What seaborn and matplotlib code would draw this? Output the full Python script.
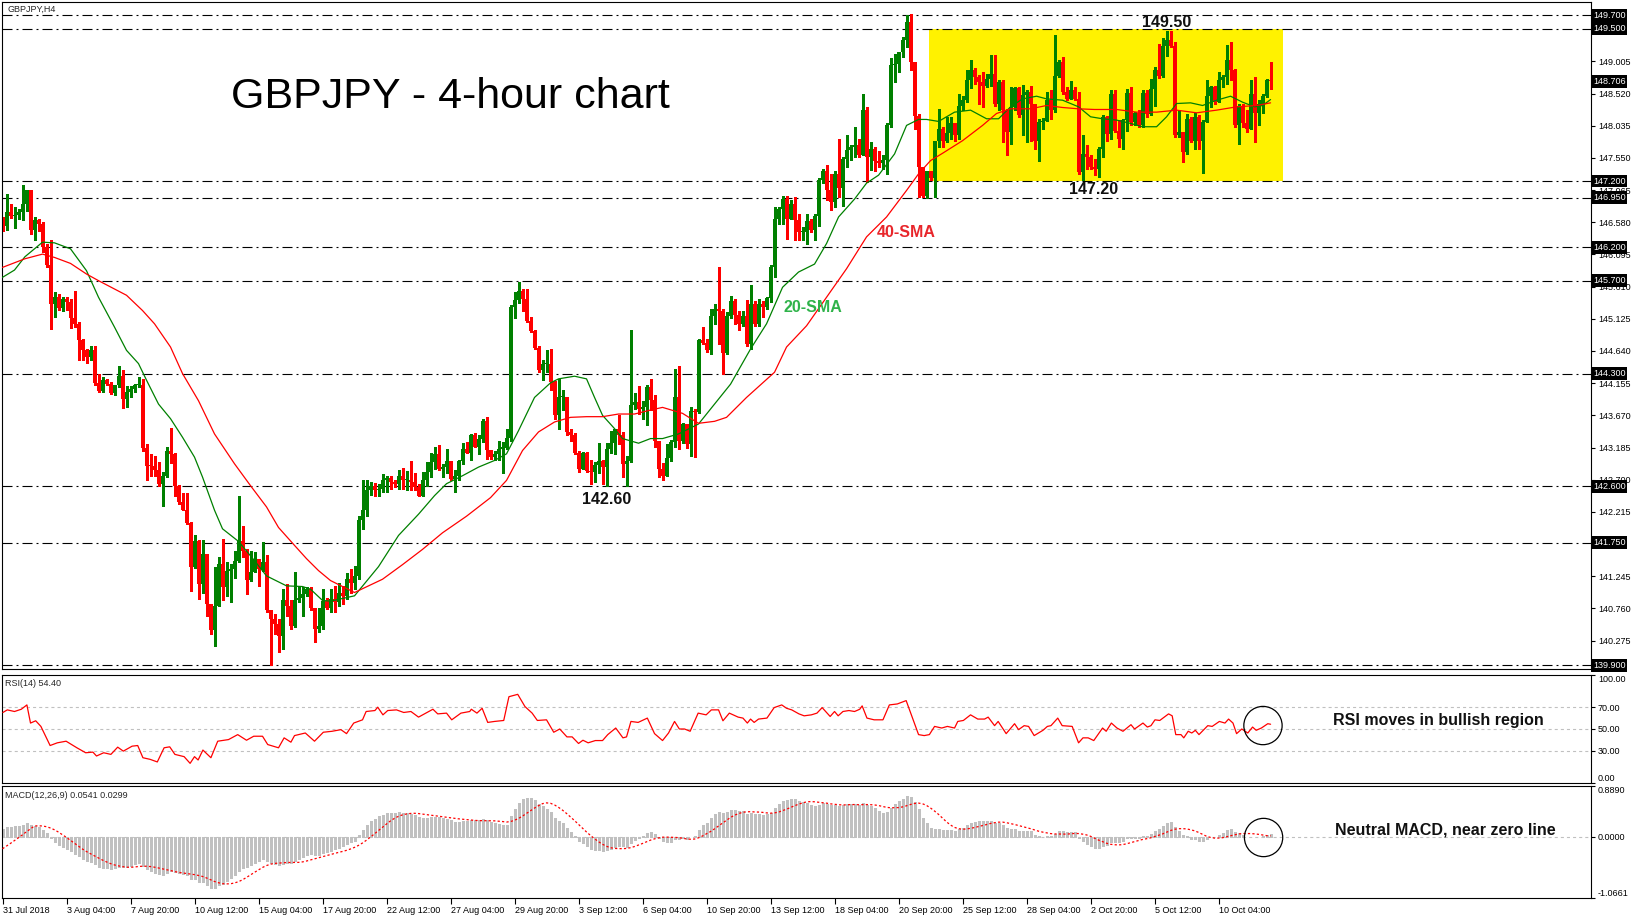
import numpy as np
import pandas as pd
import matplotlib
matplotlib.use("Agg")
import matplotlib.pyplot as plt
import seaborn as sns
from matplotlib.transforms import blended_transform_factory

# ---------------- data ----------------
first_open = 146.63
close = [146.52, 146.73, 146.68, 146.69, 146.73, 146.86, 147.06, 146.47, 146.62, 146.56,
         146.20, 145.93, 145.35, 145.46, 145.29, 145.43, 145.38, 145.14, 145.04, 144.80,
         144.65, 144.55, 144.65, 144.16, 144.04, 144.20, 144.15, 144.00, 144.12, 144.27,
         143.92, 144.02, 144.07, 144.12, 144.12, 143.18, 142.91, 142.90, 142.84, 142.63,
         142.75, 143.14, 143.09, 142.60, 142.36, 142.25, 142.04, 141.39, 141.77, 141.13,
         141.58, 140.82, 140.43, 140.80, 141.43, 141.08, 141.33, 141.36, 141.47, 141.77,
         141.62, 141.19, 141.31, 141.51, 141.36, 141.46, 140.73, 140.60, 140.53, 140.35,
         140.88, 140.80, 140.50, 140.89, 140.92, 140.98, 141.05, 140.77, 140.45, 140.50,
         140.87, 140.77, 140.90, 140.85, 141.00, 140.95, 141.20, 141.15, 141.25, 142.10,
         142.25, 142.55, 142.60, 142.55, 142.56, 142.69, 142.72, 142.66, 142.64, 142.75,
         142.69, 142.70, 142.66, 142.59, 142.46, 142.69, 142.81, 142.97, 143.08, 142.86,
         142.89, 142.98, 142.71, 142.75, 142.98, 143.17, 143.11, 143.37, 143.20, 143.32,
         143.59, 143.15, 143.04, 143.09, 143.17, 143.18, 143.33, 145.31, 145.41, 145.55,
         145.43, 145.09, 144.94, 144.69, 144.36, 144.45, 144.45, 144.17, 143.67, 143.94,
         143.94, 143.42, 143.37, 143.10, 142.86, 143.10, 142.83, 142.81, 142.92, 142.98,
         142.89, 143.17, 143.25, 143.47, 143.37, 142.94, 142.98, 143.83, 143.87, 143.77,
         143.80, 144.10, 143.90, 143.29, 142.86, 142.76, 143.03, 143.27, 143.94, 143.29,
         143.54, 143.24, 143.74, 143.72, 144.80, 144.76, 144.65, 145.16, 145.28, 145.25,
         144.61, 145.16, 145.40, 145.18, 145.05, 145.17, 144.75, 145.35, 145.04, 145.35,
         145.31, 145.44, 145.90, 146.63, 146.78, 146.93, 146.63, 146.86, 146.61, 146.43,
         146.43, 146.60, 146.46, 146.68, 147.21, 147.35, 147.06, 146.89, 147.31, 147.09,
         147.54, 147.67, 147.72, 147.74, 147.59, 148.27, 147.57, 147.69, 147.51, 147.47,
         147.52, 148.04, 148.95, 148.97, 149.15, 149.32, 149.60, 148.99, 148.18, 147.41,
         146.98, 147.35, 147.24, 147.80, 147.99, 147.80, 147.92, 148.07, 147.89, 148.34,
         148.42, 148.72, 148.87, 148.77, 148.69, 148.64, 148.74, 148.82, 148.37, 148.69,
         148.27, 147.94, 148.32, 148.61, 148.19, 148.50, 148.54, 148.37, 147.81, 148.09,
         148.10, 148.43, 148.27, 148.79, 148.99, 148.54, 148.44, 148.57, 148.44, 147.34,
         147.61, 147.56, 147.41, 147.39, 147.69, 148.17, 147.91, 148.52, 147.96, 147.84,
         148.12, 148.53, 148.09, 148.22, 148.04, 148.53, 148.21, 148.59, 148.87, 148.78,
         149.23, 149.33, 149.23, 147.89, 147.94, 147.64, 148.14, 147.81, 148.17, 147.81,
         148.09, 148.48, 148.62, 148.39, 148.72, 148.77, 149.02, 148.87, 148.04, 148.34,
         148.07, 147.99, 148.52, 148.22, 148.37, 148.49, 148.72, 148.71]
high = [146.66, 147.00, 146.85, 146.81, 146.78, 147.14, 147.07, 147.06, 146.66, 146.63,
        146.58, 146.26, 146.31, 145.53, 145.50, 145.46, 145.45, 145.43, 145.54, 145.08,
        144.82, 144.67, 144.72, 144.72, 144.30, 144.25, 144.22, 144.17, 144.13, 144.42,
        144.35, 144.11, 144.11, 144.15, 144.25, 144.22, 143.24, 143.08, 143.06, 142.96,
        142.81, 143.19, 143.48, 143.10, 142.62, 142.50, 142.50, 142.06, 141.87, 141.79,
        141.79, 141.34, 140.80, 141.38, 141.53, 141.81, 141.46, 141.43, 141.62, 142.46,
        142.00, 141.66, 141.63, 141.61, 141.51, 141.76, 141.56, 140.74, 140.68, 140.60,
        141.05, 141.13, 140.88, 141.31, 141.08, 141.08, 141.09, 141.08, 140.77, 140.77,
        141.05, 140.92, 141.05, 141.10, 141.15, 141.10, 141.30, 141.35, 141.40, 142.15,
        142.70, 142.70, 142.67, 142.65, 142.64, 142.79, 142.76, 142.76, 142.69, 142.84,
        142.88, 142.83, 142.98, 142.80, 142.64, 142.81, 142.96, 143.11, 143.20, 143.22,
        142.94, 143.17, 142.98, 142.84, 143.00, 143.25, 143.27, 143.39, 143.40, 143.37,
        143.62, 143.65, 143.15, 143.14, 143.28, 143.27, 143.47, 145.33, 145.53, 145.68,
        145.58, 145.58, 145.15, 144.96, 144.71, 144.50, 144.65, 144.67, 144.19, 144.22,
        144.05, 143.69, 143.47, 143.40, 143.14, 143.12, 143.12, 142.99, 142.96, 143.25,
        142.99, 143.25, 143.44, 143.47, 143.67, 143.42, 143.05, 144.95, 144.00, 144.11,
        143.88, 144.12, 144.22, 143.97, 143.11, 142.95, 143.24, 143.30, 144.37, 144.42,
        143.55, 143.49, 143.80, 143.77, 144.82, 145.00, 144.82, 145.28, 145.35, 145.90,
        145.28, 145.23, 145.47, 145.43, 145.25, 145.25, 145.41, 145.63, 145.40, 145.43,
        145.40, 145.46, 145.94, 146.81, 146.81, 146.98, 146.98, 146.91, 146.96, 146.71,
        146.51, 146.71, 146.63, 146.70, 147.24, 147.39, 147.45, 147.31, 147.36, 147.84,
        147.56, 147.90, 147.74, 148.01, 147.84, 148.52, 148.32, 147.79, 147.71, 147.66,
        147.59, 148.07, 149.05, 149.12, 149.15, 149.37, 149.70, 149.72, 149.00, 148.21,
        147.34, 147.36, 147.36, 147.80, 148.29, 148.01, 148.17, 148.17, 148.07, 148.52,
        148.49, 148.87, 149.02, 148.90, 148.80, 148.84, 148.82, 149.10, 149.10, 148.72,
        148.72, 148.29, 148.62, 148.62, 148.62, 148.65, 148.57, 148.64, 148.37, 148.14,
        148.15, 148.54, 148.57, 149.41, 149.02, 149.07, 148.62, 148.71, 148.62, 148.54,
        147.89, 147.74, 147.59, 147.53, 147.71, 148.19, 148.18, 148.57, 148.57, 148.12,
        148.14, 148.59, 148.62, 148.24, 148.27, 148.57, 148.57, 148.74, 148.92, 149.27,
        149.35, 149.47, 149.47, 149.30, 148.27, 147.92, 148.21, 148.16, 148.22, 148.19,
        148.12, 148.72, 148.64, 148.64, 148.85, 148.80, 149.25, 149.30, 148.89, 148.37,
        148.37, 148.27, 148.72, 148.77, 148.42, 148.52, 148.74, 149.00]
low = [146.45, 146.47, 146.65, 146.50, 146.63, 146.62, 146.75, 146.41, 146.31, 146.45,
       146.13, 145.90, 144.97, 145.15, 145.26, 145.25, 145.26, 144.99, 145.00, 144.50,
       144.50, 144.46, 144.50, 144.12, 144.02, 144.02, 144.12, 143.99, 143.98, 144.09,
       143.78, 143.79, 143.94, 144.02, 144.10, 143.14, 142.69, 142.76, 142.76, 142.61,
       142.31, 142.74, 142.95, 142.46, 142.34, 142.24, 142.03, 141.02, 141.37, 140.90,
       141.00, 140.65, 140.37, 140.20, 140.80, 140.88, 140.95, 140.85, 141.22, 141.46,
       141.53, 140.98, 141.18, 141.31, 141.10, 141.33, 140.70, 139.90, 140.37, 140.10,
       140.15, 140.65, 140.45, 140.48, 140.85, 140.65, 140.95, 140.74, 140.25, 140.40,
       140.45, 140.75, 140.70, 140.70, 140.80, 140.82, 140.90, 141.00, 141.05, 141.20,
       141.95, 142.15, 142.47, 142.45, 142.46, 142.51, 142.51, 142.56, 142.59, 142.56,
       142.56, 142.55, 142.54, 142.55, 142.46, 142.49, 142.61, 142.74, 142.86, 142.84,
       142.74, 142.80, 142.69, 142.51, 142.69, 142.94, 143.10, 142.99, 143.19, 143.09,
       143.27, 143.01, 143.01, 142.99, 142.99, 142.80, 143.16, 143.28, 145.13, 145.36,
       145.25, 145.07, 144.92, 144.67, 144.32, 144.20, 144.32, 144.05, 143.62, 143.47,
       143.75, 143.37, 143.29, 143.08, 142.81, 142.86, 142.81, 142.64, 142.66, 142.80,
       142.64, 142.61, 143.10, 143.08, 143.24, 142.74, 142.61, 142.96, 143.76, 143.69,
       143.62, 143.53, 143.75, 143.19, 142.74, 142.69, 142.76, 142.98, 143.19, 143.17,
       143.25, 143.18, 143.06, 143.04, 143.71, 144.75, 144.62, 144.60, 145.05, 144.75,
       144.29, 144.60, 145.13, 145.05, 144.96, 145.02, 144.72, 144.67, 145.02, 145.02,
       145.15, 145.28, 145.38, 145.75, 146.56, 146.56, 146.33, 146.63, 146.32, 146.31,
       146.31, 146.26, 146.43, 146.31, 146.52, 147.17, 146.91, 146.76, 146.81, 146.96,
       146.82, 147.41, 147.52, 147.56, 147.56, 147.72, 147.19, 147.37, 147.36, 147.41,
       147.39, 147.31, 148.02, 148.69, 148.85, 149.07, 149.22, 148.87, 147.99, 146.96,
       146.96, 146.94, 147.21, 146.96, 147.71, 147.71, 147.79, 147.84, 147.80, 147.84,
       148.27, 148.39, 148.61, 148.67, 148.37, 148.32, 148.62, 148.64, 148.34, 148.27,
       147.79, 147.59, 147.76, 148.27, 148.17, 147.90, 147.79, 147.81, 147.69, 147.51,
       147.99, 148.14, 148.14, 148.24, 148.77, 148.52, 148.42, 148.44, 148.42, 147.31,
       147.21, 147.39, 147.39, 147.29, 147.26, 147.56, 147.81, 147.84, 147.94, 147.71,
       147.69, 147.96, 148.04, 148.04, 148.02, 148.02, 148.17, 148.19, 148.34, 148.76,
       148.77, 149.08, 149.22, 147.87, 147.86, 147.49, 147.61, 147.79, 147.69, 147.69,
       147.32, 148.09, 148.32, 148.37, 148.39, 148.62, 148.67, 148.72, 148.02, 147.76,
       148.02, 147.94, 148.24, 147.79, 148.04, 148.22, 148.47, 148.59]

# moving averages as drawn (bar index, price)
sma20_x = [0, 3, 5.6, 10, 13, 17, 21, 24, 28, 31, 34, 36, 39, 42, 45, 48, 50, 53, 55, 59,
           63, 66, 71, 75, 77, 80, 82, 88, 94, 99, 104, 108, 111, 115, 119, 123, 126, 129,
           133, 137, 139, 143, 146, 148, 150, 153, 155, 159, 162, 165, 169, 174, 178, 182,
           187, 191, 195, 199, 203, 206, 209, 213, 216, 219, 223, 226, 229, 231, 234, 238,
           242, 246, 249, 252, 255, 258.5, 261, 265, 269, 272, 275, 278.5, 282, 285, 288.5,
           291, 293.5, 297, 300, 303.5, 307, 310, 313, 315, 317]
sma20_y = [145.75, 145.86, 146.06, 146.28, 146.27, 146.18, 145.85, 145.45, 145.00, 144.65,
           144.45, 144.20, 143.84, 143.62, 143.34, 143.04, 142.74, 142.24, 141.96, 141.77,
           141.48, 141.25, 141.10, 141.09, 141.05, 140.88, 140.87, 140.95, 141.39, 141.86,
           142.18, 142.46, 142.64, 142.76, 142.89, 142.99, 143.09, 143.44, 143.94, 144.16,
           144.22, 144.26, 144.22, 143.94, 143.67, 143.47, 143.32, 143.25, 143.32, 143.32,
           143.39, 143.54, 143.84, 144.14, 144.67, 145.05, 145.60, 145.83, 145.95, 146.26,
           146.66, 146.93, 147.17, 147.29, 147.61, 148.04, 148.13, 148.13, 148.10, 148.24,
           148.27, 148.14, 148.14, 148.32, 148.44, 148.48, 148.44, 148.42, 148.32, 148.17,
           148.14, 148.12, 148.07, 148.02, 148.02, 148.17, 148.37, 148.38, 148.34, 148.42,
           148.48, 148.39, 148.32, 148.34, 148.43]
sma40_x = [0, 5.6, 10, 13, 17, 21, 24, 31, 35, 38, 42, 45, 49, 53, 58, 62, 66, 69, 73, 76,
           79, 82, 88, 95, 100, 105, 110, 116, 122, 126, 130, 134, 138, 142, 146, 150, 154,
           158, 162, 165, 170, 174, 178, 181, 186, 193, 196, 201, 206, 211, 216, 221, 226,
           229, 232, 235, 240, 245, 248.5, 252, 257, 261, 265, 269, 273, 278.5, 283.5,
           288.5, 293.5, 298.5, 303.5, 308.5, 313.5, 317]
sma40_y = [145.90, 146.03, 146.10, 146.05, 145.96, 145.80, 145.70, 145.48, 145.25, 145.05,
           144.70, 144.30, 143.89, 143.39, 142.94, 142.61, 142.29, 141.98, 141.71, 141.51,
           141.33, 141.18, 141.00, 141.20, 141.42, 141.65, 141.90, 142.15, 142.43, 142.69,
           143.14, 143.42, 143.57, 143.64, 143.65, 143.65, 143.69, 143.69, 143.75, 143.79,
           143.70, 143.55, 143.58, 143.64, 143.94, 144.32, 144.70, 145.02, 145.45, 145.88,
           146.36, 146.66, 147.06, 147.31, 147.51, 147.62, 147.81, 148.04, 148.22, 148.29,
           148.29, 148.34, 148.31, 148.29, 148.28, 148.28, 148.24, 148.24, 148.27, 148.23,
           148.27, 148.32, 148.34, 148.38]

# RSI(14) as drawn (bar index, value)
rsi_x = [0.1, 1.2, 3.0, 4.7, 6.1, 7.0, 8.3, 9.6, 11.9, 13.7, 15.9, 18.6, 20.8, 22.6, 23.5,
         25.3, 27.1, 28.8, 30.2, 32.4, 33.8, 35.1, 36.9, 38.7, 40.4, 41.8, 43.1, 45.4, 46.9,
         48.0, 48.9, 50.1, 52.1, 53.8, 56.5, 58.8, 61.0, 62.8, 65.0, 66.3, 69.0, 70.4, 72.1,
         73.0, 75.7, 78.0, 80.2, 82.4, 84.6, 86.0, 87.8, 90.0, 90.9, 93.1, 93.8, 95.1, 96.3,
         98.5, 100.3, 102.1, 104.0, 106.1, 107.6, 108.8, 111.0, 112.3, 114.6, 116.8, 117.2,
         118.6, 119.9, 121.3, 123.0, 125.3, 126.6, 128.8, 130.6, 132.4, 133.7, 136.0, 137.8,
         139.3, 141.1, 142.4, 144.0, 145.1, 146.4, 148.2, 150.0, 151.3, 153.3, 155.1, 156.0,
         157.1, 158.9, 161.2, 163.0, 165.0, 166.5, 168.0, 169.2, 170.5, 171.9, 173.9, 175.9,
         177.2, 179.0, 180.1, 181.7, 183.9, 185.1, 186.2, 187.0, 187.9, 189.0, 191.1, 192.9,
         194.8, 196.0, 197.3, 199.1, 200.4, 202.2, 203.6, 204.9, 206.9, 208.0, 208.9, 210.1,
         211.6, 213.0, 214.3, 214.9, 216.1, 217.9, 220.1, 221.7, 223.7, 225.9, 229.0, 230.4,
         231.7, 233.0, 234.8, 236.2, 238.0, 238.8, 240.2, 242.0, 243.8, 245.5, 246.4, 248.0,
         248.9, 250.9, 253.0, 254.0, 255.4, 256.5, 257.9, 260.1, 261.2, 262.1, 263.8, 264.9,
         267.4, 269.0, 270.1, 271.4, 272.8, 275.0, 275.9, 277.2, 278.6, 280.1, 282.1, 283.0,
         285.1, 286.2, 287.1, 288.1, 289.3, 291.5, 292.4, 293.3, 294.6, 295.3, 296.4, 297.3,
         298.2, 299.1, 301.3, 302.4, 304.2, 305.6, 306.5, 307.6, 308.5, 309.8, 311.3, 312.5,
         313.4, 314.7, 316.3, 317.0]
rsi_y = [65.3, 67.7, 66.2, 68.3, 72.3, 55.5, 57.6, 52.4, 34.7, 37.2, 38.7, 32.6, 28.0, 28.6,
         25.0, 28.0, 26.5, 33.2, 29.5, 34.1, 34.7, 23.4, 21.9, 19.5, 32.6, 33.5, 26.5, 24.4,
         18.2, 24.4, 21.3, 30.5, 23.4, 38.7, 40.2, 44.8, 39.6, 43.3, 43.3, 35.6, 32.6, 41.8,
         37.8, 43.9, 46.3, 38.7, 47.0, 47.9, 49.4, 45.7, 55.5, 58.5, 66.2, 67.1, 70.2, 63.1,
         67.1, 67.7, 65.3, 66.2, 61.0, 65.3, 68.3, 64.0, 64.7, 58.5, 64.7, 66.2, 68.3, 64.7,
         69.2, 56.1, 57.0, 57.9, 79.9, 82.1, 70.8, 64.7, 57.9, 58.5, 47.0, 50.0, 42.7, 42.7,
         36.6, 39.6, 37.2, 39.3, 39.3, 44.8, 50.9, 41.8, 42.7, 57.0, 56.1, 60.1, 45.7, 39.3,
         46.3, 57.0, 50.0, 50.0, 47.9, 64.7, 63.1, 67.7, 67.7, 57.6, 64.7, 61.0, 60.1, 55.5,
         59.2, 56.1, 59.2, 60.1, 69.8, 72.3, 69.2, 67.7, 64.0, 62.2, 63.1, 64.7, 69.8, 61.6,
         66.2, 62.2, 66.2, 67.1, 66.2, 68.3, 71.4, 60.1, 58.5, 58.5, 72.3, 73.2, 76.3, 44.8,
         43.9, 44.8, 52.4, 50.9, 52.4, 50.9, 57.0, 57.9, 63.1, 59.2, 59.2, 61.0, 53.1, 57.0,
         45.7, 54.9, 49.4, 53.1, 52.4, 43.9, 48.8, 52.4, 53.1, 60.1, 53.1, 52.4, 37.2, 41.8,
         41.8, 39.3, 50.9, 47.9, 55.5, 50.9, 47.9, 54.0, 50.0, 55.5, 51.8, 53.1, 58.5, 57.9,
         64.0, 62.2, 44.8, 44.8, 41.8, 47.9, 46.3, 48.8, 44.8, 53.1, 52.4, 57.0, 55.5, 59.2,
         55.5, 45.7, 50.0, 46.3, 51.8, 48.8, 50.9, 54.9, 54.4]

# MACD(12,26,9): state of the averages just before the first bar
macd_fast_seed = 146.25
macd_slow_seed = 146.12
macd_signal_seed = -0.25

levels = [149.70, 149.50, 147.20, 146.95, 146.20, 145.70, 144.30, 142.60, 141.75, 139.90]
last_price = 148.706
price_ticks = [149.005, 148.520, 148.035, 147.550, 147.065, 146.580, 146.095, 145.610,
               145.125, 144.640, 144.155, 143.670, 143.185, 142.700, 142.215, 141.730,
               141.245, 140.760, 140.275]
hidden_ticks = [141.730]   # fully covered by the 141.750 marker in the original
date_labels = ['31 Jul 2018', '3 Aug 04:00', '7 Aug 20:00', '10 Aug 12:00', '15 Aug 04:00',
               '17 Aug 20:00', '22 Aug 12:00', '27 Aug 04:00', '29 Aug 20:00', '3 Sep 12:00',
               '6 Sep 04:00', '10 Sep 20:00', '13 Sep 12:00', '18 Sep 04:00', '20 Sep 20:00',
               '25 Sep 12:00', '28 Sep 04:00', '2 Oct 20:00', '5 Oct 12:00', '10 Oct 04:00']
range_top, range_bottom = 149.50, 147.20

# ---------------- indicators ----------------
close = np.array(close)
opens = np.r_[first_open, close[:-1]]
high = np.maximum(np.array(high), np.maximum(opens, close))
low = np.minimum(np.array(low), np.minimum(opens, close))
bars = np.arange(len(close))


def ema(values, period, seed):
    k = 2.0 / (period + 1)
    out = []
    prev = seed
    for v in values:
        prev = prev + k * (v - prev)
        out.append(prev)
    return np.array(out)


macd = ema(close, 12, macd_fast_seed) - ema(close, 26, macd_slow_seed)
signal = pd.Series(np.r_[[macd_signal_seed] * 8, macd]).rolling(9).mean().to_numpy()[8:]

# ---------------- figure ----------------
sns.set_theme(style="white")
plt.rcParams['font.family'] = ['Liberation Sans', 'DejaVu Sans']
plt.rcParams['lines.scale_dashes'] = False

W, H = 1644, 919
fig = plt.figure(figsize=(W / 100, H / 100), dpi=100)
fig.patch.set_facecolor('white')


def px_axes(top, bottom, left=2, right=1591):
    return fig.add_axes([left / W, 1 - bottom / H, (right - left) / W, (bottom - top) / H])


ax = px_axes(2, 669)
ax_rsi = px_axes(675, 783)
ax_macd = px_axes(786, 898)

GREEN = '#008000'
RED = '#ff0000'
XLIM = (-0.125, 397.1)
small = 6.5

for a in (ax, ax_rsi, ax_macd):
    a.set_facecolor('white')
    a.set_xlim(*XLIM)
    for s in a.spines.values():
        s.set_color('black')
        s.set_linewidth(0.8)
    a.yaxis.tick_right()
    a.tick_params(axis='y', length=3, width=0.8, pad=2, labelsize=small,
                  colors='black', direction='out')
    a.grid(False)

# main panel
ax.set_ylim(139.847, 149.90)
ax.add_patch(plt.Rectangle((231.7, range_bottom), 320.1 - 231.7, range_top - range_bottom,
                           facecolor='#fff200', edgecolor='none', zorder=0.5))
for lv in levels:
    ax.axhline(lv, color='black', lw=0.8, linestyle=(0, (7.2, 2.9, 1.4, 2.9)), zorder=1)

up = close >= opens
dn = ~up
body_bottom = np.minimum(opens, close)
body_height = np.maximum(np.abs(close - opens), 0.016)
for mask, col in ((up, GREEN), (dn, RED)):
    ax.vlines(bars[mask], low[mask], high[mask], color=col, lw=0.8, zorder=2,
              antialiased=False)
    ax.bar(bars[mask], body_height[mask], bottom=body_bottom[mask], width=0.75,
           color=col, linewidth=0, zorder=2.1, antialiased=False)

sns.lineplot(x=sma20_x, y=sma20_y, ax=ax, color=GREEN, lw=0.9, estimator=None, zorder=3)
sns.lineplot(x=sma40_x, y=sma40_y, ax=ax, color=RED, lw=0.9, estimator=None, zorder=3)

ax.set_xticks([])
ax.set_yticks(price_ticks)
ax.set_yticklabels(['' if v in hidden_ticks else f'{v:.3f}' for v in price_ticks])
ax.set_xlabel('')
ax.set_ylabel('')

trans = blended_transform_factory(ax.transAxes, ax.transData)
for lv in levels + [last_price]:
    ax.text(1.0013, lv, f'{lv:.3f}', transform=trans, color='white', fontsize=small,
            va='center', ha='left', clip_on=False, zorder=10,
            bbox=dict(boxstyle='square,pad=0.2', fc='black', ec='none'))

ax.text(57.0, 148.30, 'GBPJPY - 4-hour chart', fontsize=31, color='black',
        ha='left', va='baseline', zorder=5)
bold = dict(fontsize=11.5, fontweight='bold', ha='center', va='baseline', zorder=6)
ax.text(291.1, 149.524, '149.50', color='#111111', **bold)
ax.text(272.8, 147.01, '147.20', color='#111111', **bold)
ax.text(150.9, 142.34, '142.60', color='#111111', **bold)
ax.text(226.0, 146.36, '40-SMA', color='#e8262b', **bold)
ax.text(202.6, 145.23, '20-SMA', color='#2fb34a', **bold)
fig.text(7 / W, 1 - 9.5 / H, 'GBPJPY,H4', fontsize=small, ha='left', va='center')

# RSI panel
ax_rsi.set_ylim(0, 100)
for lv in (70, 50, 30):
    ax_rsi.axhline(lv, color='#c0c0c0', lw=0.8, linestyle=(0, (2.2, 2.2)), zorder=1)
sns.lineplot(x=rsi_x, y=rsi_y, ax=ax_rsi, color=RED, lw=0.9, estimator=None, zorder=3)
ax_rsi.set_xticks([])
ax_rsi.set_yticks([100, 70, 50, 30, 0])
ax_rsi.set_yticklabels(['100.00', '70.00', '50.00', '30.00', '0.00'])
labs = ax_rsi.get_yticklabels()
labs[0].set_verticalalignment('top')
labs[-1].set_verticalalignment('bottom')
ax_rsi.set_xlabel('')
ax_rsi.set_ylabel('')
ax_rsi.scatter([315.1], [53.2], s=760, facecolors='none', edgecolors='black',
               linewidths=0.9, zorder=4)
ax_rsi.text(359.0, 53.7, 'RSI moves in bullish region', color='#111111', **bold)
fig.text(5 / W, 1 - 684 / H, 'RSI(14) 54.40', fontsize=small, ha='left', va='center')

# MACD panel
ax_macd.set_ylim(-1.0661, 0.8890)
ax_macd.axhline(0, color='#c0c0c0', lw=0.8, linestyle=(0, (2.2, 2.2)), zorder=1)
ax_macd.vlines(bars, 0, macd, colors='#c0c0c0', lw=0.75, zorder=2, antialiased=False)
sns.lineplot(x=bars, y=signal, ax=ax_macd, color=RED, lw=0.9, estimator=None, zorder=3)
ax_macd.lines[-1].set_linestyle((0, (1.6, 1.6)))
ax_macd.set_yticks([0.8890, 0.0, -1.0661])
ax_macd.set_yticklabels(['0.8890', '0.0000', '-1.0661'])
labs = ax_macd.get_yticklabels()
labs[0].set_verticalalignment('top')
labs[-1].set_verticalalignment('bottom')
ax_macd.set_xticks(np.arange(0, 16 * len(date_labels), 16))
ax_macd.set_xticklabels(date_labels, ha='left')
ax_macd.tick_params(axis='x', length=4, width=0.8, pad=1.5, labelsize=small,
                    colors='black', direction='out', bottom=True)
ax_macd.set_xlabel('')
ax_macd.set_ylabel('')
ax_macd.scatter([315.25], [-0.010], s=760, facecolors='none', edgecolors='black',
                linewidths=0.9, zorder=4)
ax_macd.text(360.6, 0.051, 'Neutral MACD, near zero line', color='#111111', **bold)
fig.text(5 / W, 1 - 795 / H, 'MACD(12,26,9) 0.0541 0.0299', fontsize=small,
         ha='left', va='center')

fig.savefig('out.png', dpi=100, facecolor='white')
